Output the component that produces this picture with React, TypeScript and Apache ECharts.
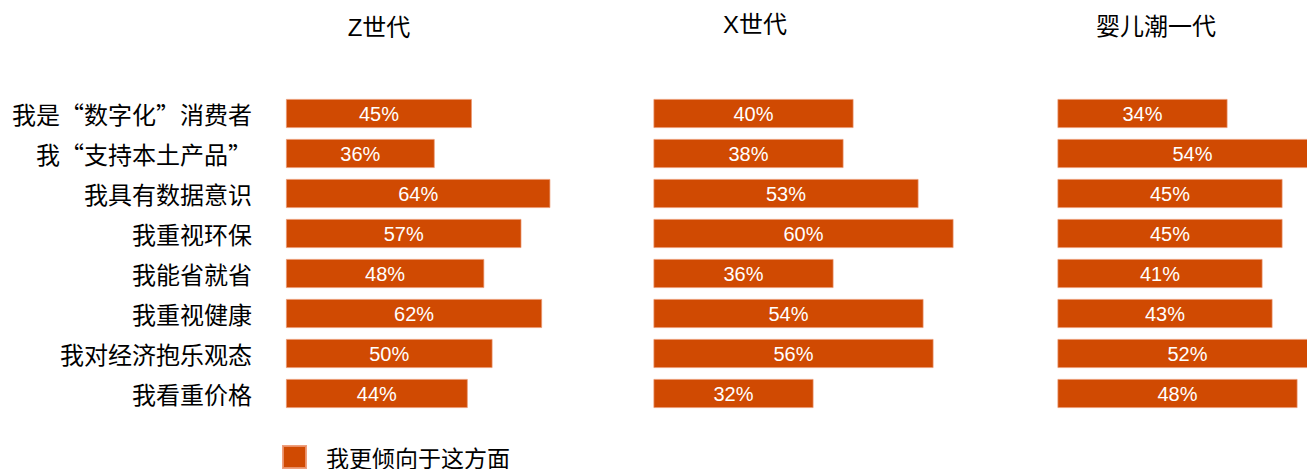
import React, { useEffect, useRef } from "react";
import * as echarts from "echarts";

const categories = [
  "我是“数字化”消费者",
  "我“支持本土产品”",
  "我具有数据意识",
  "我重视环保",
  "我能省就省",
  "我重视健康",
  "我对经济抱乐观态",
  "我看重价格",
];
const panelTitles = ["Z世代", "X世代", "婴儿潮一代"];
const genZ = [45, 36, 64, 57, 48, 62, 50, 44];
const genX = [40, 38, 53, 60, 36, 54, 56, 32];
const boomers = [34, 54, 45, 45, 41, 43, 52, 48];
const seriesName = "我更倾向于这方面";

const LATIN = "'Liberation Sans', Arial, 'Noto Sans CJK SC', sans-serif";
const CJK = "'Noto Sans CJK SC', 'Liberation Sans', sans-serif";
const BAR = "#D04A02";

export default function App() {
  const ref = useRef<HTMLDivElement>(null);
  useEffect(() => {
    if (!ref.current) return;
    const chart = echarts.init(ref.current, undefined, { renderer: "svg" });
    const panels = [
      { data: genZ, left: 286, width: 413, titleX: 379, titleY: 27.5 },
      { data: genX, left: 653.5, width: 500, titleX: 755, titleY: 24.5 },
      { data: boomers, left: 1057.5, width: 500, titleX: 1156, titleY: 26 },
    ];
    chart.setOption({
      animation: false,
      backgroundColor: "#ffffff",
      legend: {
        data: [seriesName],
        left: 277,
        top: 440,
        padding: 5,
        itemWidth: 23,
        itemHeight: 22,
        icon: "rect",
        textStyle: {
          fontSize: 23,
          lineHeight: 23,
          color: "#000",
          fontFamily: CJK,
          padding: [0, 0, 0, 15],
        },
      },
      graphic: panels.map((p, i) => ({
        type: "text",
        x: p.titleX,
        y: p.titleY,
        style: {
          text: panelTitles[i],
          fontSize: 24,
          fontFamily: LATIN,
          fill: "#000",
          align: "center",
          verticalAlign: "middle",
        },
      })),
      grid: panels.map((p) => ({
        left: p.left,
        top: 93.5,
        width: p.width,
        height: 320,
        containLabel: false,
      })),
      xAxis: panels.map((_, i) => ({
        gridIndex: i,
        type: "value",
        min: 0,
        max: 100,
        show: false,
      })),
      yAxis: panels.map((_, i) => ({
        gridIndex: i,
        type: "category",
        data: categories,
        inverse: true,
        axisLine: { show: false },
        axisTick: { show: false },
        splitLine: { show: false },
        axisLabel: {
          show: i === 0,
          fontSize: 24,
          color: "#000",
          margin: 34,
          fontFamily: CJK,
        },
      })),
      series: panels.map((p, i) => ({
        type: "bar",
        name: seriesName,
        xAxisIndex: i,
        yAxisIndex: i,
        data: p.data,
        barWidth: 29,
        itemStyle: {
          color: BAR,
          borderColor: "rgba(236,150,112,0.9)",
          borderWidth: 0.8,
        },
        label: {
          show: true,
          position: "inside",
          formatter: "{c}%",
          color: "#fff",
          fontSize: 20,
          fontFamily: LATIN,
        },
      })),
    });
    return () => chart.dispose();
  }, []);
  return (
    <div
      style={{
        position: "fixed",
        left: 0,
        top: 0,
        width: 1307,
        height: 469,
        overflow: "hidden",
        background: "#fff",
      }}
    >
      <div ref={ref} style={{ width: 1600, height: 469 }} />
    </div>
  );
}
